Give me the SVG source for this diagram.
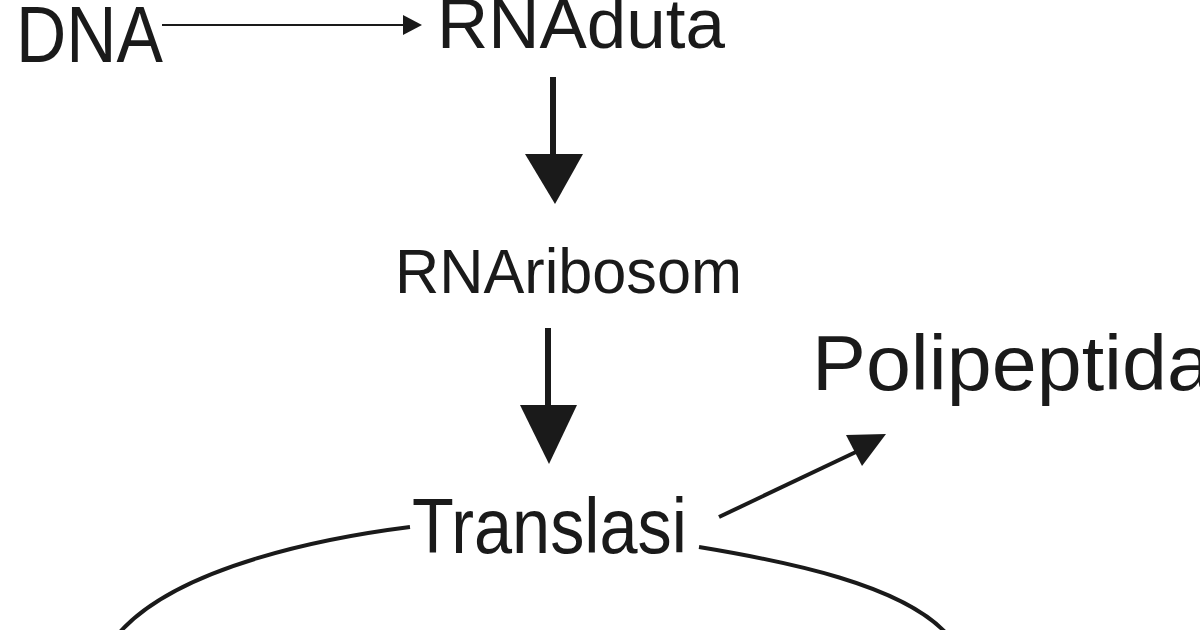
<svg xmlns="http://www.w3.org/2000/svg" width="1200" height="630" viewBox="0 0 1200 630">
  <style>
    .t { font-family: "Liberation Sans", "DejaVu Sans", sans-serif; fill: #1a1a1a; }
    .ln { stroke: #1a1a1a; fill: none; }
    .hd { fill: #1a1a1a; stroke: none; }
  </style>
  <rect width="1200" height="630" fill="#ffffff"/>
  <g id="connectors">
    <line class="ln" x1="162" y1="25" x2="405" y2="25" stroke-width="2"/>
    <polygon class="hd" points="403,15 422,25 403,35"/>
    <line class="ln" x1="553" y1="77" x2="553" y2="156" stroke-width="6"/>
    <polygon class="hd" points="525,154 583,154 555,204"/>
    <line class="ln" x1="548" y1="328" x2="548" y2="407" stroke-width="6"/>
    <polygon class="hd" points="520,405 577,405 549,464"/>
    <line class="ln" x1="719" y1="517" x2="858" y2="451" stroke-width="4"/>
    <polygon class="hd" points="846,435 886,434 862,466"/>
    <path class="ln" d="M410,527 C330,537 180,565 120,632" stroke-width="4"/>
    <path class="ln" d="M699,547 C790,562 900,585 945,632" stroke-width="4"/>
  </g>
  <g id="node-dna">
    <text class="t" x="16" y="62" font-size="80" textLength="147" lengthAdjust="spacingAndGlyphs">DNA</text>
  </g>
  <g id="node-rnaduta">
    <text class="t" x="437" y="48" font-size="70" textLength="288" lengthAdjust="spacingAndGlyphs">RNAduta</text>
  </g>
  <g id="node-rnaribosom">
    <text class="t" x="395" y="293" font-size="63" textLength="347" lengthAdjust="spacingAndGlyphs">RNAribosom</text>
  </g>
  <g id="node-polipeptida">
    <text class="t" x="812" y="390" font-size="77" textLength="400" lengthAdjust="spacingAndGlyphs">Polipeptida</text>
  </g>
  <g id="node-translasi">
    <text class="t" x="412" y="553" font-size="77" textLength="275" lengthAdjust="spacingAndGlyphs">Translasi</text>
  </g>
</svg>
